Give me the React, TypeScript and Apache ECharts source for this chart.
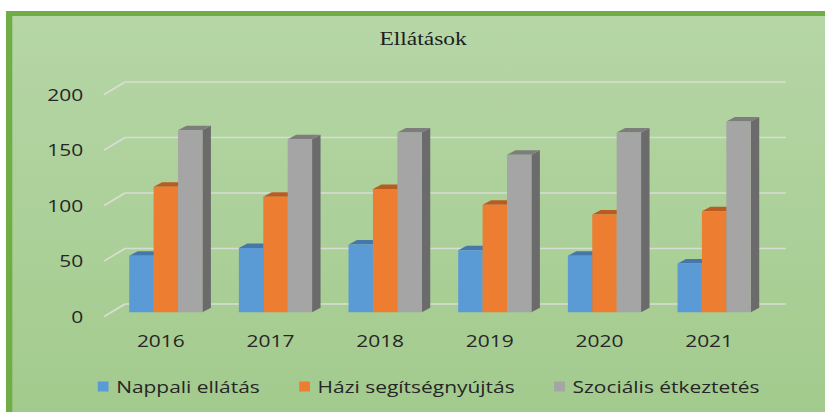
import React, { useEffect, useRef } from "react";
import * as echarts from "echarts";

// Ellátások – number of people served per year
const years = ["2016", "2017", "2018", "2019", "2020", "2021"];
const nappaliEllatas = [51, 58, 61, 56, 51, 44];
const haziSegitsegnyujtas = [113, 104, 111, 97, 88, 91];
const szocialisEtkeztetes = [164, 156, 162, 142, 162, 172];
const valueTicks = [0, 50, 100, 150, 200];

const seriesNames = ["Nappali ellátás", "Házi segítségnyújtás", "Szociális étkeztetés"];
const seriesValues = [nappaliEllatas, haziSegitsegnyujtas, szocialisEtkeztetes];

// front / top / side face colours of each 3-D column
const palette = [
  { front: "#5B9BD5", top: "#4677AA", side: "#3E6A96" },
  { front: "#ED7D31", top: "#B85C20", side: "#A9531B" },
  { front: "#A5A5A5", top: "#7D7D7D", side: "#6B6B6B" },
];

// the drawing is laid out on a narrower surface and stretched sideways
const CHART_W = 650;
const CHART_H = 412;
const STRETCH = 825 / CHART_W;

const BAR_FRACTION = 0.2225; // width of one column as a share of a category band
const BAR_SHIFT = 0.0456; // columns sit a little behind (right of) the front plane
const BAR_DEPTH_X = 8.5 / STRETCH;
const BAR_DEPTH_Y = 4.5;
const WALL_DX = 21 / STRETCH; // floor depth from front edge to back wall
const FRONT_DY = 4.3;
const BACK_DY = -8.3;

const PLOT_LEFT = 83.5;
const PLOT_TOP = 90.3;
const PLOT_W = 518.4;
const PLOT_H = 222;

const TEXT_FONT = "'Open Sans', 'Noto Sans', sans-serif";

function wallRenderItem(params: any, api: any) {
  const cs = params.coordSys;
  const y = api.coord([0, api.value(1)])[1];
  const fx = cs.x - 2 / STRETCH;
  const bx = fx + WALL_DX;
  const ex = cs.x + cs.width + 22 / STRETCH;
  const style = { stroke: "#D8DDD4", lineWidth: 1.6 };
  return {
    type: "group",
    children: [
      { type: "line", shape: { x1: fx, y1: y + FRONT_DY, x2: bx, y2: y + BACK_DY }, style },
      { type: "line", shape: { x1: bx, y1: y + BACK_DY, x2: ex, y2: y + BACK_DY }, style },
    ],
  };
}

function makeColumnRenderer(k: number) {
  const c = palette[k];
  return (params: any, api: any) => {
    const base = api.coord([api.value(0), 0]);
    const top = api.coord([api.value(0), api.value(1)]);
    const band = api.size([1, 0])[0];
    const w = band * BAR_FRACTION;
    const x0 = base[0] + band * BAR_SHIFT + (k - 1.5) * w;
    const x1 = x0 + w;
    const yt = top[1];
    const yb = base[1];
    return {
      type: "group",
      children: [
        {
          type: "polygon",
          shape: {
            points: [
              [x1, yt],
              [x1 + BAR_DEPTH_X, yt - BAR_DEPTH_Y],
              [x1 + BAR_DEPTH_X, yb - BAR_DEPTH_Y],
              [x1, yb],
            ],
          },
          style: { fill: c.side },
        },
        {
          type: "polygon",
          shape: {
            points: [
              [x0, yt],
              [x1, yt],
              [x1 + BAR_DEPTH_X, yt - BAR_DEPTH_Y],
              [x0 + BAR_DEPTH_X, yt - BAR_DEPTH_Y],
            ],
          },
          style: { fill: c.top },
        },
        {
          type: "rect",
          shape: { x: x0, y: yt, width: w, height: yb - yt },
          style: { fill: c.front },
        },
      ],
    };
  };
}

export default function App() {
  const ref = useRef<HTMLDivElement>(null);

  useEffect(() => {
    if (!ref.current) return;
    const chart = echarts.init(ref.current, null, { renderer: "svg" });

    const columnSeries = seriesNames.map((name, k) => ({
      name,
      type: "custom",
      coordinateSystem: "cartesian2d",
      xAxisIndex: 0,
      yAxisIndex: 0,
      renderItem: makeColumnRenderer(k),
      itemStyle: { color: palette[k].front },
      encode: { x: 0, y: 1 },
      data: seriesValues[k].map((v, i) => [i, v]),
      clip: false,
      z: 3,
    }));

    const labelStyle = { fontFamily: TEXT_FONT, fontSize: 16.5, color: "#262626" };

    chart.setOption({
      animation: false,
      backgroundColor: "#FFFFFF",
      graphic: [
        {
          type: "rect",
          z: -10,
          silent: true,
          shape: { x: 7.2, y: 13.4, width: 700, height: 460 },
          style: {
            fill: {
              type: "linear",
              x: 0,
              y: 0,
              x2: 0,
              y2: 1,
              colorStops: [
                { offset: 0, color: "#B6D6A6" },
                { offset: 1, color: "#A0C98A" },
              ],
            },
            stroke: "#70AD47",
            lineWidth: 5,
          },
        },
      ],
      title: {
        text: "Ellátások",
        left: 299,
        top: 29,
        padding: 0,
        textStyle: {
          fontFamily: "'Liberation Serif', 'Times New Roman', serif",
          fontWeight: "normal",
          fontSize: 18.5,
          color: "#1E1E1E",
        },
      },
      legend: {
        left: 72,
        top: 373,
        itemWidth: 8.5,
        itemHeight: 10,
        itemGap: 31,
        data: seriesNames.map((name, k) => ({
          name,
          icon: "rect",
          itemStyle: { color: palette[k].front },
        })),
        textStyle: { ...labelStyle, padding: [0, 0, 0, 1] },
      },
      grid: [
        // columns and back wall
        { left: PLOT_LEFT, top: PLOT_TOP, width: PLOT_W, height: PLOT_H },
        // value labels sit on the front edge of the floor, slightly lower
        { left: PLOT_LEFT, top: PLOT_TOP + FRONT_DY, width: PLOT_W, height: PLOT_H },
      ],
      xAxis: [
        {
          type: "category",
          gridIndex: 0,
          data: years,
          axisLine: { show: false },
          axisTick: { show: false },
          axisLabel: { margin: 20, ...labelStyle },
        },
        {
          type: "category",
          gridIndex: 1,
          data: years,
          show: false,
        },
      ],
      yAxis: [
        {
          type: "value",
          gridIndex: 0,
          min: 0,
          max: 200,
          interval: 50,
          axisLine: { show: false },
          axisTick: { show: false },
          splitLine: { show: false },
          axisLabel: { show: false },
        },
        {
          type: "value",
          gridIndex: 1,
          min: 0,
          max: 200,
          interval: 50,
          axisLine: { show: false },
          axisTick: { show: false },
          splitLine: { show: false },
          axisLabel: { margin: 18, ...labelStyle },
        },
      ],
      series: [
        {
          type: "custom",
          coordinateSystem: "cartesian2d",
          xAxisIndex: 0,
          yAxisIndex: 0,
          renderItem: wallRenderItem,
          encode: { x: 0, y: 1 },
          data: valueTicks.map((v) => [0, v]),
          clip: false,
          silent: true,
          z: 1,
        },
        ...columnSeries,
      ],
    });

    return () => chart.dispose();
  }, []);

  return (
    <div
      style={{
        position: "absolute",
        left: 0,
        top: 0,
        width: 825,
        height: CHART_H,
        overflow: "hidden",
        background: "#FFFFFF",
      }}
    >
      <div
        ref={ref}
        style={{
          width: CHART_W,
          height: CHART_H,
          transform: `scaleX(${STRETCH})`,
          transformOrigin: "0 0",
        }}
      />
    </div>
  );
}
